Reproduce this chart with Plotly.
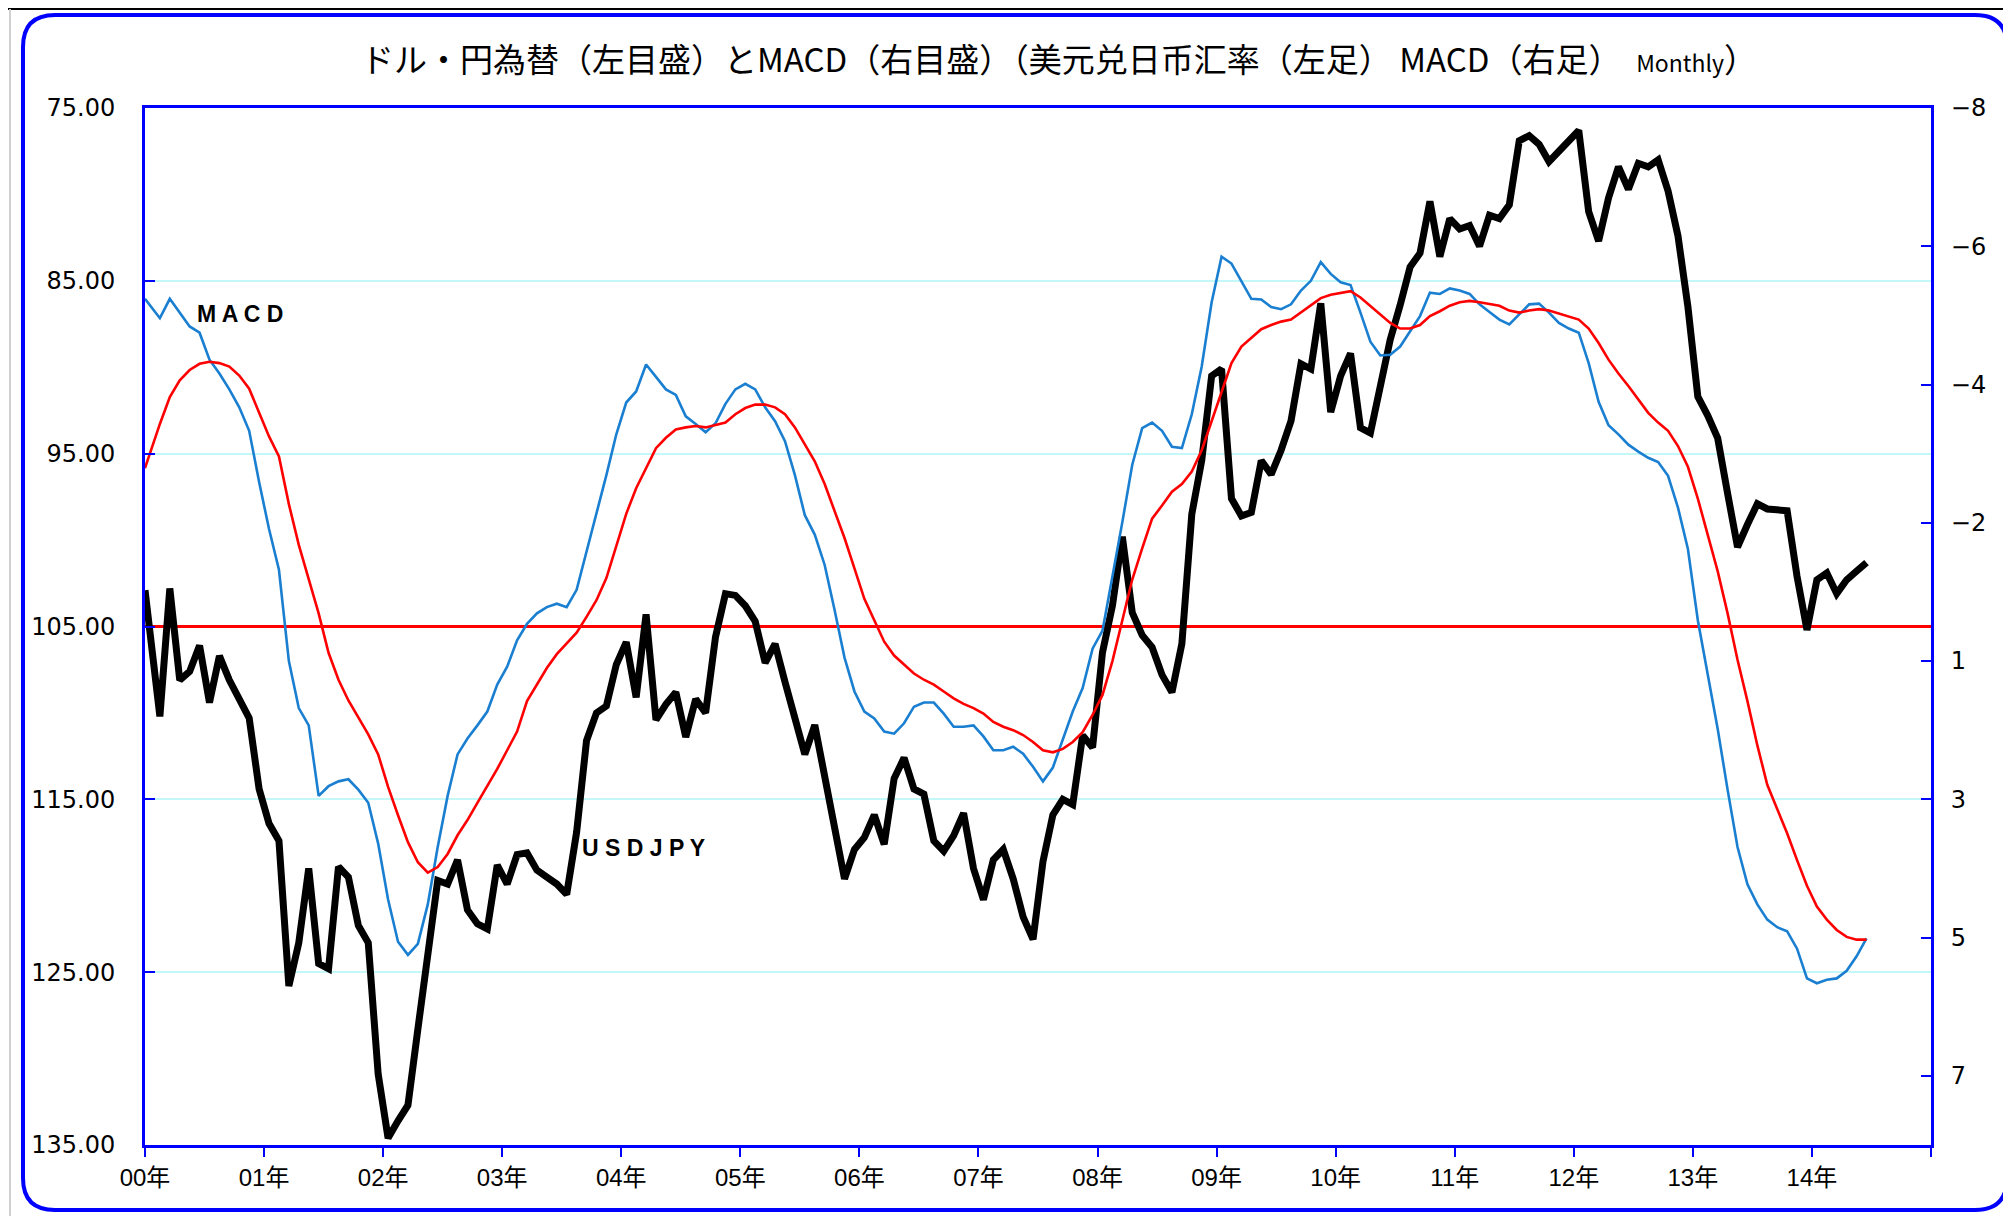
import numpy as np
import plotly.graph_objects as go

# ---------------- data ----------------
# USDJPY monthly (left axis). First value = start of Jan-2000, then month closes Feb-2000 .. Jun-2014
usdjpy_2000 = [102.9, 110.2, 102.8, 108.1, 107.6, 106.1, 109.4, 106.7, 108.1, 109.2, 110.3, 114.4]
usdjpy_2001 = [116.4, 117.4, 125.8, 123.3, 119.0, 124.5, 124.8, 118.9, 119.5, 122.3, 123.3, 130.9]
usdjpy_2002 = [134.6, 133.6, 132.7, 128.3, 123.8, 119.7, 119.9, 118.5, 121.4, 122.2, 122.5, 118.8]
usdjpy_2003 = [119.9, 118.2, 118.1, 119.1, 119.5, 119.9, 120.5, 116.9, 111.6, 110.0, 109.6, 107.2]
usdjpy_2004 = [105.9, 109.1, 104.3, 110.4, 109.5, 108.8, 111.4, 109.2, 110.0, 105.6, 103.1, 103.2]
usdjpy_2005 = [103.8, 104.7, 107.1, 106.0, 108.2, 110.5, 112.4, 110.7, 113.5, 116.5, 119.6, 117.9]
usdjpy_2006 = [117.2, 115.9, 117.6, 113.8, 112.6, 114.4, 114.7, 117.4, 118.0, 117.1, 115.8, 119.0]
usdjpy_2007 = [120.8, 118.5, 117.9, 119.6, 121.8, 123.1, 118.6, 115.9, 115.0, 115.3, 111.3, 112.0]
usdjpy_2008 = [106.5, 103.8, 99.8, 104.2, 105.5, 106.2, 107.8, 108.8, 106.0, 98.5, 95.4, 90.5]
usdjpy_2009 = [90.1, 97.6, 98.6, 98.4, 95.4, 96.2, 94.8, 93.1, 89.8, 90.1, 86.3, 92.6]
usdjpy_2010 = [90.5, 89.2, 93.5, 93.8, 91.2, 88.4, 86.4, 84.2, 83.4, 80.4, 83.6, 81.4]
usdjpy_2011 = [82.0, 81.8, 83.0, 81.2, 81.4, 80.6, 76.9, 76.6, 77.1, 78.1, 77.5, 76.9]
usdjpy_2012 = [76.3, 81.0, 82.7, 80.2, 78.4, 79.7, 78.2, 78.4, 78.0, 79.8, 82.4, 86.5]
usdjpy_2013 = [91.7, 92.8, 94.1, 97.3, 100.4, 99.1, 97.9, 98.2, 98.3, 98.3, 102.1, 105.2]
usdjpy_2014 = [102.3, 101.9, 103.1, 102.3, 101.8, 101.3]

# MACD (right axis)
macd_2000 = [-4.74, -4.46, -4.74, -4.54, -4.34, -4.25, -3.86, -3.66, -3.43, -3.17, -2.83, -2.09]
macd_2001 = [-1.41, -0.82, 0.50, 1.18, 1.43, 2.45, 2.31, 2.24, 2.21, 2.36, 2.55, 3.14]
macd_2002 = [3.95, 4.56, 4.75, 4.59, 4.02, 3.19, 2.45, 1.85, 1.62, 1.43, 1.23, 0.84]
macd_2003 = [0.58, 0.20, -0.04, -0.19, -0.28, -0.33, -0.28, -0.53, -1.07, -1.63, -2.19, -2.78]
macd_2004 = [-3.24, -3.40, -3.79, -3.61, -3.43, -3.35, -3.04, -2.93, -2.81, -2.94, -3.22, -3.43]
macd_2005 = [-3.51, -3.43, -3.17, -2.97, -2.68, -2.19, -1.61, -1.33, -0.89, -0.24, 0.45, 0.94]
macd_2006 = [1.23, 1.33, 1.52, 1.55, 1.40, 1.16, 1.10, 1.10, 1.26, 1.45, 1.45, 1.43]
macd_2007 = [1.59, 1.79, 1.79, 1.74, 1.84, 2.03, 2.24, 2.04, 1.62, 1.23, 0.89, 0.32]
macd_2008 = [0.06, -0.72, -1.51, -2.34, -2.87, -2.95, -2.83, -2.60, -2.58, -3.07, -3.76, -4.69]
macd_2009 = [-5.35, -5.25, -5.00, -4.74, -4.73, -4.62, -4.59, -4.66, -4.86, -5.00, -5.27, -5.10]
macd_2010 = [-4.98, -4.94, -4.54, -4.12, -3.92, -3.93, -4.05, -4.28, -4.49, -4.83, -4.81, -4.89]
macd_2011 = [-4.86, -4.81, -4.66, -4.55, -4.44, -4.37, -4.51, -4.66, -4.67, -4.54, -4.39, -4.31]
macd_2012 = [-4.25, -3.81, -3.25, -2.91, -2.78, -2.63, -2.53, -2.44, -2.38, -2.18, -1.72, -1.12]
macd_2013 = [-0.09, 0.69, 1.48, 2.36, 3.19, 3.73, 4.02, 4.24, 4.35, 4.41, 4.66, 5.09]
macd_2014 = [5.16, 5.11, 5.09, 4.98, 4.77, 4.51]

# Signal line (right axis)
signal_2000 = [-2.29, -2.93, -3.32, -3.56, -3.71, -3.80, -3.83, -3.81, -3.76, -3.63, -3.44, -3.10]
signal_2001 = [-2.75, -2.46, -1.77, -1.18, -0.70, -0.19, 0.38, 0.77, 1.07, 1.31, 1.56, 1.85]
signal_2002 = [2.32, 2.73, 3.12, 3.41, 3.56, 3.48, 3.29, 3.02, 2.80, 2.55, 2.31, 2.06]
signal_2003 = [1.79, 1.52, 1.08, 0.84, 0.60, 0.40, 0.25, 0.09, -0.14, -0.38, -0.70, -1.17]
signal_2004 = [-1.63, -2.00, -2.29, -2.58, -2.73, -2.85, -2.88, -2.90, -2.88, -2.91, -2.95, -3.07]
signal_2005 = [-3.16, -3.21, -3.21, -3.17, -3.07, -2.88, -2.63, -2.39, -2.06, -1.67, -1.28, -0.84]
signal_2006 = [-0.40, -0.09, 0.22, 0.42, 0.55, 0.68, 0.77, 0.84, 0.94, 1.04, 1.12, 1.18]
signal_2007 = [1.26, 1.38, 1.45, 1.50, 1.57, 1.67, 1.79, 1.82, 1.77, 1.67, 1.53, 1.28]
signal_2008 = [0.99, 0.50, -0.09, -0.68, -1.13, -1.56, -1.75, -1.95, -2.06, -2.24, -2.55, -2.97]
signal_2009 = [-3.41, -3.81, -4.05, -4.18, -4.30, -4.36, -4.41, -4.44, -4.54, -4.64, -4.75, -4.80]
signal_2010 = [-4.82, -4.85, -4.76, -4.64, -4.52, -4.39, -4.31, -4.31, -4.36, -4.49, -4.56, -4.64]
signal_2011 = [-4.69, -4.71, -4.69, -4.66, -4.64, -4.57, -4.54, -4.57, -4.59, -4.57, -4.53, -4.49]
signal_2012 = [-4.44, -4.31, -4.10, -3.86, -3.66, -3.48, -3.29, -3.09, -2.95, -2.83, -2.61, -2.31]
signal_2013 = [-1.85, -1.33, -0.80, -0.19, 0.48, 1.08, 1.72, 2.29, 2.65, 2.99, 3.38, 3.75]
signal_2014 = [4.05, 4.24, 4.39, 4.49, 4.53, 4.53]

year_labels = ["00年", "01年", "02年", "03年", "04年", "05年", "06年", "07年",
               "08年", "09年", "10年", "11年", "12年", "13年", "14年", ""]
left_ticks = [75, 85, 95, 105, 115, 125, 135]
left_tick_text = ["75.00", "85.00", "95.00", "105.00", "115.00", "125.00", "135.00"]
right_ticks = [-7.5, -5.5, -3.5, -1.5, 0.5, 2.5, 4.5, 6.5]
right_tick_text = ["−8", "−6", "−4", "−2", "1", "3", "5", "7"]

title_text = ("ドル・円為替（左目盛）とMACD（右目盛）（美元兑日币汇率（左足） MACD（右足）  "
              "<span style='font-size:23px'>Monthly</span>）")

usdjpy = sum([usdjpy_2000, usdjpy_2001, usdjpy_2002, usdjpy_2003, usdjpy_2004, usdjpy_2005,
              usdjpy_2006, usdjpy_2007, usdjpy_2008, usdjpy_2009, usdjpy_2010, usdjpy_2011,
              usdjpy_2012, usdjpy_2013, usdjpy_2014], [])
macd = sum([macd_2000, macd_2001, macd_2002, macd_2003, macd_2004, macd_2005, macd_2006,
            macd_2007, macd_2008, macd_2009, macd_2010, macd_2011, macd_2012, macd_2013,
            macd_2014], [])
signal = sum([signal_2000, signal_2001, signal_2002, signal_2003, signal_2004, signal_2005,
              signal_2006, signal_2007, signal_2008, signal_2009, signal_2010, signal_2011,
              signal_2012, signal_2013, signal_2014], [])

n = len(usdjpy)
# x in years since Jan-2000: first point at the start, then mid-month positions
x = np.concatenate([[0.0], (np.arange(1, n) + 0.5) / 12.0])

# ---------------- layout geometry (pixels) ----------------
OFF = 8                      # page body margin
W, H = 2003, 1208
L, R, T, B = 137, 80, 100, 71
PW, PH = W - L - R, H - T - B


def px(xabs):
    return (xabs - OFF - L) / PW


def py(yabs):
    return 1 - (yabs - OFF - T) / PH


BLUE = "#0000ff"
fig = go.Figure()
fig.add_trace(go.Scatter(x=x, y=macd, yaxis="y2", mode="lines",
                         line=dict(color="#1a7fd0", width=2.6), name="MACD"))
fig.add_trace(go.Scatter(x=x, y=signal, yaxis="y2", mode="lines",
                         line=dict(color="#ff0000", width=2.6), name="Signal"))
fig.add_trace(go.Scatter(x=x, y=usdjpy, yaxis="y", mode="lines",
                         line=dict(color="#000000", width=7), name="USDJPY"))

# rounded outer frame
x0, x1, y0, y1, r = 23, 2007, 15, 1210, 32
path = (f"M {px(x0 + r)},{py(y0)} L {px(x1 - r)},{py(y0)} Q {px(x1)},{py(y0)} {px(x1)},{py(y0 + r)} "
        f"L {px(x1)},{py(y1 - r)} Q {px(x1)},{py(y1)} {px(x1 - r)},{py(y1)} "
        f"L {px(x0 + r)},{py(y1)} Q {px(x0)},{py(y1)} {px(x0)},{py(y1 - r)} "
        f"L {px(x0)},{py(y0 + r)} Q {px(x0)},{py(y0)} {px(x0 + r)},{py(y0)} Z")
shapes = [
    dict(type="path", xref="paper", yref="paper", path=path, line=dict(color=BLUE, width=4)),
    dict(type="line", xref="paper", yref="paper", x0=px(OFF), x1=px(OFF + W), y0=py(9), y1=py(9),
         line=dict(color="#000000", width=2)),
    dict(type="line", xref="paper", yref="paper", x0=px(10), x1=px(10), y0=py(9), y1=py(OFF + H),
         line=dict(color="#d0d0d0", width=2)),
]

fig.update_layout(
    width=W, height=H,
    margin=dict(l=L, r=R, t=T, b=B),
    paper_bgcolor="white", plot_bgcolor="white",
    showlegend=False,
    shapes=shapes,
    title=dict(text=title_text, x=(1059 - OFF) / W, xref="container", xanchor="center",
               y=1 - (60 - OFF) / H, yref="container", yanchor="middle",
               font=dict(family="Noto Sans CJK JP", size=33, color="#000000")),
    xaxis=dict(range=[0, 15], tickmode="array", tickvals=list(range(16)), ticktext=year_labels,
               ticks="outside", ticklen=9, tickwidth=2, tickcolor=BLUE,
               showline=True, linecolor=BLUE, linewidth=3, mirror=True,
               showgrid=False, zeroline=False,
               tickfont=dict(family="Liberation Sans, Noto Sans CJK JP", size=24, color="#000000")),
    yaxis=dict(range=[135, 75], tickmode="array", tickvals=left_ticks, ticktext=left_tick_text,
               ticks="inside", ticklen=10, tickwidth=2, tickcolor=BLUE,
               showline=True, linecolor=BLUE, linewidth=3,
               showgrid=True, gridcolor="#c4f8f8", gridwidth=1.5, zeroline=False,
               ticklabelstandoff=22,
               tickfont=dict(family="DejaVu Sans", size=24, color="#000000")),
    yaxis2=dict(range=[7.5, -7.5], overlaying="y", side="right", tickmode="array",
                tickvals=right_ticks, ticktext=right_tick_text,
                ticks="inside", ticklen=10, tickwidth=2, tickcolor=BLUE,
                showline=True, linecolor=BLUE, linewidth=3,
                showgrid=False, zeroline=True, zerolinecolor="#ff0000", zerolinewidth=2.5,
                ticklabelstandoff=12,
                tickfont=dict(family="DejaVu Sans", size=24, color="#000000")),
    annotations=[
        dict(x=0.8, y=86.9, xref="x", yref="y", text="<b>M A C D</b>", showarrow=False,
             font=dict(family="Liberation Sans", size=23, color="#000000")),
        dict(x=4.19, y=117.8, xref="x", yref="y", text="<b>U S D J P Y</b>", showarrow=False,
             font=dict(family="Liberation Sans", size=23, color="#000000")),
    ],
)

fig.write_html("out.html")
